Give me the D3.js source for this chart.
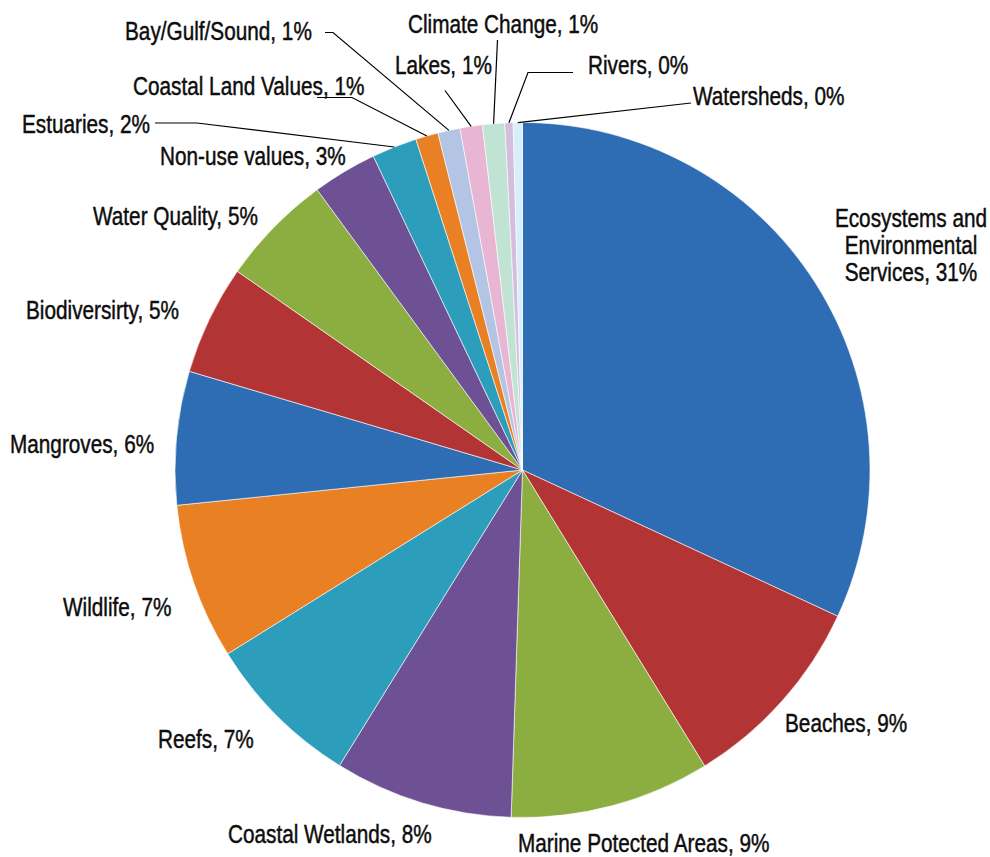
<!DOCTYPE html>
<html>
<head>
<meta charset="utf-8">
<script src="https://cdn.jsdelivr.net/npm/d3@7"></script>
<style>
  body { margin: 0; background: #fff; }
  text { font-family: "Liberation Sans", Arial, sans-serif; font-size: 25px; fill: #0d0d0d;
         stroke: #0d0d0d; stroke-width: 0.45px; }
</style>
</head>
<body>
<div id="chart"></div>
<script>
// categories in clockwise order from 12 o'clock
var categories = ["Ecosystems and Environmental Services", "Beaches", "Marine Potected Areas",
  "Coastal Wetlands", "Reefs", "Wildlife", "Mangroves", "Biodiversirty", "Water Quality",
  "Non-use values", "Estuaries", "Coastal Land Values", "Bay/Gulf/Sound", "Lakes",
  "Climate Change", "Rivers", "Watersheds"];
// share of studies (%)
var shares = [31.9, 9.3, 9.3, 8.3, 7.3, 7.25, 6.2, 5.1, 5.25, 3.0, 2.1, 1.05, 1.03, 1.04, 1.03, 0.38, 0.43];
// percentages as printed on the labels
var pctLabels = [31, 9, 9, 8, 7, 7, 6, 5, 5, 3, 2, 1, 1, 1, 1, 0, 0];

var colors = ["#2e6db3", "#b33434", "#8cad3f", "#6e5195", "#2c9dba", "#ea8024",
  "#2e6db3", "#b33434", "#8cad3f", "#6e5195", "#2c9dba", "#ea8024",
  "#b3c4e4", "#e8b5d3", "#c1e3d3", "#d3bedd", "#d9eefb"];

var width = 990, height = 857,
    cx = 522.5, cy = 470, r = 347.5,
    squeeze = 0.83; // condensed look of the original face

// label placement (left x, baseline y), leader start and optional elbow
var labelPos = [
  {x: 911, y: 227, anchor: "middle", lines: [2, 1, 2]},
  {x: 785, y: 732}, {x: 518, y: 852}, {x: 228, y: 843}, {x: 158, y: 748},
  {x: 63, y: 616}, {x: 10, y: 453}, {x: 26, y: 319}, {x: 93, y: 225},
  {x: 160, y: 165},
  {x: 22, y: 133, lead: [[155, 123], [197, 123]]},
  {x: 133, y: 95, lead: [[317, 97.5], [352, 97.5]]},
  {x: 125, y: 40, lead: [[325, 32.5], [333, 32.5]]},
  {x: 395, y: 74, lead: [[445, 90.5]]},
  {x: 408, y: 33, lead: [[497.5, 40]]},
  {x: 588, y: 74, lead: [[573, 72.5], [528, 72.5]]},
  {x: 693, y: 105, lead: [[691, 103]]}
];

var data = categories.map(function (c, i) {
  return {name: c, value: shares[i], pct: pctLabels[i], color: colors[i], pos: labelPos[i]};
});

var svg = d3.select("#chart").append("svg")
    .attr("width", width)
    .attr("height", height);

var g = svg.append("g")
    .attr("transform", "translate(" + cx + "," + cy + ")");

var pie = d3.pie().sort(null).value(function (d) { return d.value; });
var arc = d3.arc().innerRadius(0).outerRadius(r);
var rim = d3.arc().innerRadius(r).outerRadius(r);

var arcs = pie(data);

g.selectAll("path.slice")
    .data(arcs)
    .enter().append("path")
    .attr("class", "slice")
    .attr("d", arc)
    .attr("fill", function (d) { return d.data.color; })
    .attr("stroke", "#fff")
    .attr("stroke-width", 0.6);

// leader lines
var line = d3.line();
svg.append("g").selectAll("path.lead")
    .data(arcs.filter(function (d) { return d.data.pos.lead; }))
    .enter().append("path")
    .attr("class", "lead")
    .attr("fill", "none")
    .attr("stroke", "#000")
    .attr("stroke-width", 1.2)
    .attr("d", function (d) {
      var c = rim.centroid(d);
      return line(d.data.pos.lead.concat([[cx + c[0], cy + c[1]]]));
    });

// labels
var labels = svg.append("g").selectAll("g.label")
    .data(data)
    .enter().append("g")
    .attr("class", "label")
    .attr("transform", function (d) {
      return "translate(" + d.pos.x + "," + d.pos.y + ") scale(" + squeeze + ",1)";
    })
    .append("text")
    .attr("text-anchor", function (d) { return d.pos.anchor || "start"; });

labels.each(function (d) {
  var full = d.name + ", " + d.pct + "%";
  var t = d3.select(this);
  if (!d.pos.lines) { t.text(full); return; }
  var words = full.split(" "), k = 0;
  d.pos.lines.forEach(function (n, i) {
    t.append("tspan")
      .attr("x", 0)
      .attr("dy", i ? 27 : 0)
      .text(words.slice(k, k + n).join(" "));
    k += n;
  });
});
</script>
</body>
</html>
